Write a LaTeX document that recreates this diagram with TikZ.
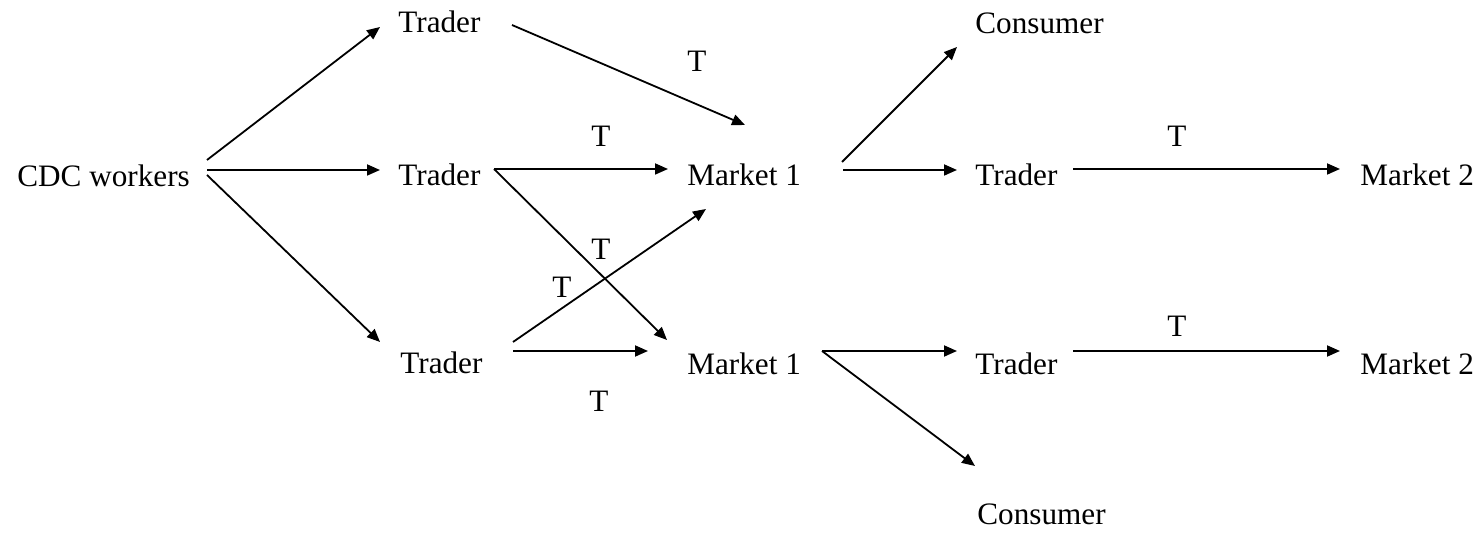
\documentclass[tikz,border=0pt]{standalone}
\usepackage{fontspec}
\setmainfont{Liberation Serif}
\usetikzlibrary{arrows.meta,calc}
\begin{document}
\begin{tikzpicture}[x=0.5pt,y=-0.5pt,
  lbl/.style={inner sep=0pt,anchor=base west,font=\fontsize{15.6}{18}\selectfont},
  tlbl/.style={inner sep=0pt,anchor=base,font=\fontsize{15.6}{18}\selectfont},
  arr/.style={line width=0.9pt,-{Triangle[length=6.5pt,width=5.5pt]}}]
\useasboundingbox (0,0) rectangle (1483,533);
% nodes
\node[lbl] (cdc)  at (17,187)   {CDC workers};
\node[lbl] (tr1)  at (398,33)   {Trader};
\node[lbl] (tr2)  at (398,186)  {Trader};
\node[lbl] (tr3)  at (400,374)  {Trader};
\node[lbl] (m1a)  at (687,186)  {Market 1};
\node[lbl] (m1b)  at (687,375)  {Market 1};
\node[lbl] (con1) at (975,34)   {Consumer};
\node[lbl] (tr4)  at (975,186)  {Trader};
\node[lbl] (m2a)  at (1360,186) {Market 2};
\node[lbl] (tr5)  at (975,375)  {Trader};
\node[lbl] (m2b)  at (1360,375) {Market 2};
\node[lbl] (con2) at (977,525)  {Consumer};
% T labels
\node[tlbl] (t1) at (697,72)   {T};
\node[tlbl] (t2) at (601,147)  {T};
\node[tlbl] (t3) at (601,260)  {T};
\node[tlbl] (t4) at (562,298)  {T};
\node[tlbl] (t5) at (599,412)  {T};
\node[tlbl] (t6) at (1177,147) {T};
\node[tlbl] (t7) at (1177,337) {T};
% connectors
\draw[arr] ($(cdc.base west)+(190,-27)$) -- ($(tr1.base west)+(-18,-6)$);
\draw[arr] ($(cdc.base west)+(190,-17)$) -- ($(tr2.base west)+(-18,-16)$);
\draw[arr] ($(cdc.base west)+(190,-12)$) -- ($(tr3.base west)+(-20,-32)$);
\draw[arr] ($(tr1.base west)+(114,-8)$) -- ($(m1a.base west)+(58,-61)$);
\draw[arr] ($(tr2.base west)+(96,-17)$) -- ($(m1a.base west)+(-19,-17)$);
\draw[arr] ($(tr2.base west)+(96,-17)$) -- ($(m1b.base west)+(-20,-35)$);
\draw[arr] ($(tr3.base west)+(113,-32)$) -- ($(m1a.base west)+(19,23)$);
\draw[arr] ($(tr3.base west)+(113,-23)$) -- ($(m1b.base west)+(-39,-24)$);
\draw[arr] ($(m1a.base west)+(155,-24)$) -- ($(con1.base west)+(-18,13)$);
\draw[arr] ($(m1a.base west)+(156,-16)$) -- ($(tr4.base west)+(-18,-16)$);
\draw[arr] ($(tr4.base west)+(98,-17)$) -- ($(m2a.base west)+(-20,-17)$);
\draw[arr] ($(m1b.base west)+(135,-24)$) -- ($(tr5.base west)+(-18,-24)$);
\draw[arr] ($(m1b.base west)+(135,-24)$) -- ($(con2.base west)+(-2,-59)$);
\draw[arr] ($(tr5.base west)+(98,-24)$) -- ($(m2b.base west)+(-20,-24)$);
\end{tikzpicture}
\end{document}
